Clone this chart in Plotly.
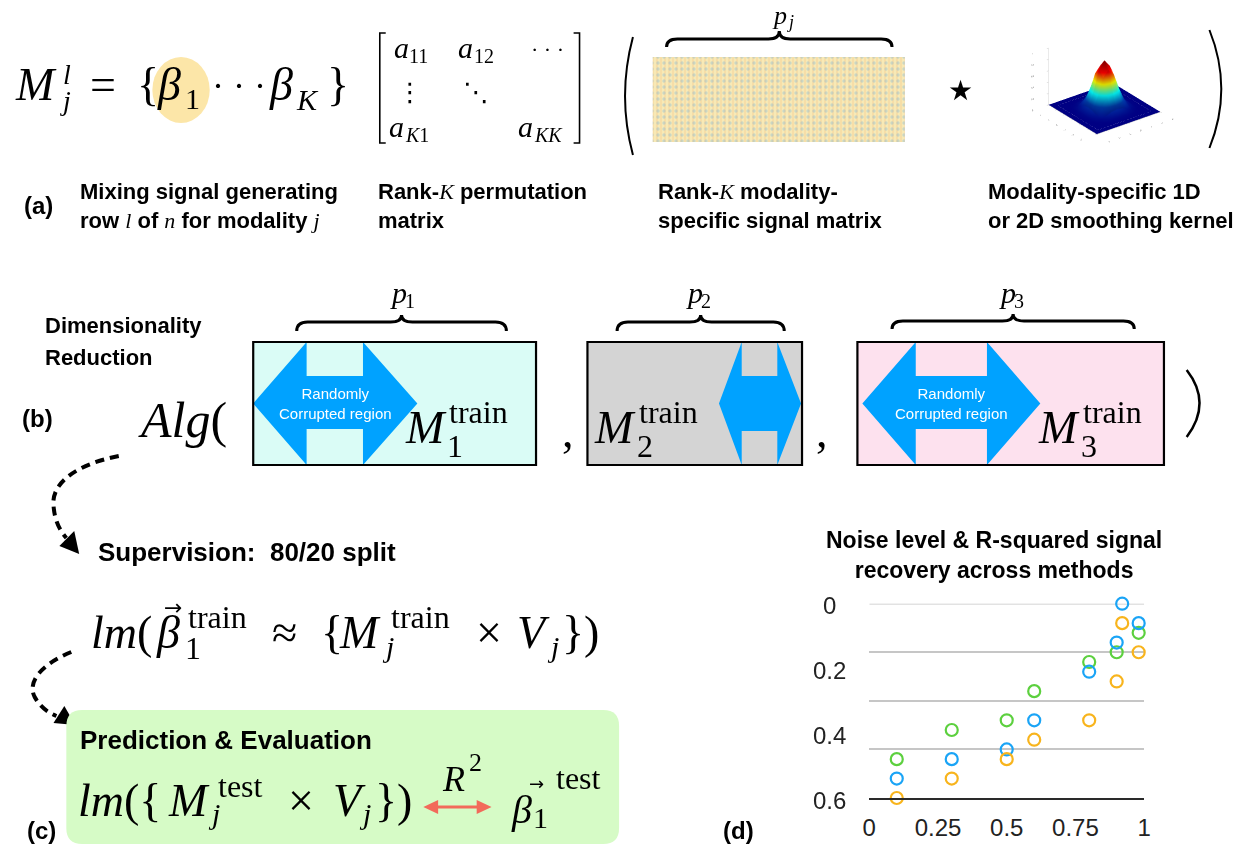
import plotly.graph_objects as go

W, H = 1255, 851
SANS = "Liberation Sans, Arial, Helvetica, sans-serif"
SERIF = "Liberation Serif, Times New Roman, serif"
SYM = "DejaVu Sans, sans-serif"

# ---------------- data: panel (d) scatter ----------------
noise_ticks = [0, 0.25, 0.5, 0.75, 1]
noise_tick_text = ["0", "0.25", "0.5", "0.75", "1"]
r2_label_vals = [0, 0.2, 0.4, 0.6]
r2_label_text = ["0", "0.2", "0.4", "0.6"]
r2_grid_vals = [0, 0.15, 0.3, 0.45, 0.6]

green_x = [0.1, 0.3, 0.5, 0.6, 0.8, 0.9, 0.98]
green_y = [0.48, 0.39, 0.36, 0.27, 0.18, 0.15, 0.09]
blue_x = [0.1, 0.3, 0.5, 0.6, 0.8, 0.9, 0.92, 0.98]
blue_y = [0.54, 0.48, 0.45, 0.36, 0.21, 0.12, 0.0, 0.06]
orange_x = [0.1, 0.3, 0.5, 0.6, 0.8, 0.9, 0.92, 0.98]
orange_y = [0.60, 0.54, 0.48, 0.42, 0.36, 0.24, 0.06, 0.15]
series_colors = {"green": "#5cd03e", "blue": "#1aa4f6", "orange": "#f8b41c"}

# ---------------- data: kernel illustration ----------------
kernel_axis = [-3, -2.5, -2, -1.5, -1, -0.5, 0, 0.5, 1, 1.5, 2, 2.5, 3]
kernel_profile = [0.0, 0.0, 0.02, 0.12, 0.42, 0.78, 0.92, 0.78, 0.42, 0.12, 0.02, 0.0, 0.0]
kernel_z = [[a * b for a in kernel_profile] for b in kernel_profile]

ann = []
shp = []


def text(x, y, s, size, family=SANS, color="black", xanchor="left", yanchor="middle", align="left"):
    ann.append(dict(x=x, y=y, xref="x2", yref="y2", text=s, showarrow=False,
                    font=dict(family=family, size=size, color=color),
                    xanchor=xanchor, yanchor=yanchor, align=align, borderpad=0, borderwidth=0))


def math(x, base, s, size, xanchor="left", family=SERIF):
    text(x, base - 0.3375 * size, s, size, family=family, xanchor=xanchor)


def ser(s):
    return "<span style='font-family:Liberation Serif;font-weight:normal'><i>%s</i></span>" % s


def path(d, color="black", width=2, fill=None, dash=None):
    shp.append(dict(type="path", path=d, xref="x2", yref="y2",
                    line=dict(color=color, width=width, dash=dash),
                    fillcolor=fill if fill else "rgba(0,0,0,0)"))


def rect(x0, y0, x1, y1, fill=None, color="black", width=2):
    shp.append(dict(type="rect", x0=x0, x1=x1, y0=y0, y1=y1, xref="x2", yref="y2",
                    line=dict(color=color, width=width),
                    fillcolor=fill if fill else "rgba(0,0,0,0)"))


def brace(x0, x1, yb, bar, peak, r=11, width=3):
    xm = (x0 + x1) / 2
    d = (f"M {x0},{yb} Q {x0},{bar} {x0+r},{bar} L {xm-r},{bar} Q {xm},{bar} {xm},{peak} "
         f"Q {xm},{bar} {xm+r},{bar} L {x1-r},{bar} Q {x1},{bar} {x1},{yb}")
    path(d, width=width)


def darrow(xl, xbl, xbr, xr, ytop, ybot, sy0, sy1, color="#00a2ff"):
    ym = (ytop + ybot) / 2
    d = (f"M {xl},{ym} L {xbl},{ytop} L {xbl},{sy0} L {xbr},{sy0} L {xbr},{ytop} L {xr},{ym} "
         f"L {xbr},{ybot} L {xbr},{sy1} L {xbl},{sy1} L {xbl},{ybot} Z")
    path(d, width=0, fill=color)


def tri(p1, p2, p3, color="black"):
    path(f"M {p1[0]},{p1[1]} L {p2[0]},{p2[1]} L {p3[0]},{p3[1]} Z", width=0, fill=color)


# ================= Row (a) =================
shp.append(dict(type="circle", x0=147, x1=205, y0=57, y1=123, xref="x2", yref="y2",
                line=dict(width=0), fillcolor="#fce6a8", layer="below"))
math(8, 100, "<i>M</i>", 46)
math(57, 84, "<i>l</i>", 28)
math(54, 110, "<i>j</i>", 28)
math(84, 100, "=", 46)
math(131, 100, "{", 46)
math(152, 100, "<i>β</i>", 46)
math(180, 109, "1", 30)
math(207, 98, "· · ·", 36)
math(265, 100, "<i>β</i>", 46)
math(292, 110, "<i>K</i>", 30)
math(324, 100, "}", 46)

# matrix
path("M 383,33 L 377,33 L 377,143 L 383,143", width=1.6)
path("M 573,33 L 579,33 L 579,143 L 573,143", width=1.6)
math(391, 58, "<i>a</i>", 30)
math(407, 63, "11", 20)
math(456, 58, "<i>a</i>", 30)
math(472, 63, "12", 20)
math(530, 57, "· · ·", 22)
text(408, 92, "⋮", 26, family=SYM, xanchor="center")
text(474, 92, "⋱", 26, family=SYM, xanchor="center")
math(386, 137, "<i>a</i>", 30)
math(402, 142, "<i>K</i>1", 20)
math(517, 137, "<i>a</i>", 30)
math(533, 142, "<i>KK</i>", 20)

# big parentheses
path("M 633,37 Q 617,96 633,155", width=2)
path("M 1216,30 Q 1240,89 1216,148", width=2)

# heatmap brace and label
brace(667, 895, 47, 39, 31)
math(774, 24, "<i>p</i>", 26)
math(789, 28, "<i>j</i>", 18)

# star operator
text(964, 90, "★", 28, family=SYM, xanchor="center")

# labels
text(17, 205, "<b>(a)</b>", 24)
text(74, 206, "<b>Mixing signal generating</b><br><b>row </b>" + ser("l") + "<b> of </b>" + ser("n")
     + "<b> for modality </b>" + ser("j"), 22)
text(375, 206, "<b>Rank-</b>" + ser("K") + "<b> permutation</b><br><b>matrix</b>", 22)
text(658, 206, "<b>Rank-</b>" + ser("K") + "<b> modality-</b><br><b>specific signal matrix</b>", 22)
text(992, 206, "<b>Modality-specific 1D</b><br><b>or 2D smoothing kernel</b>", 22)

# ================= Row (b) =================
text(38, 325, "<b>Dimensionality</b>", 22)
text(38, 357, "<b>Reduction</b>", 22)
text(15, 418, "<b>(b)</b>", 24)
math(132, 437, "<i>Alg</i>(", 50)

# boxes
BY0, BY1 = 342, 465
rect(249, BY0, 535, BY1, fill="#dafcf6", width=0)
rect(587, BY0, 804, BY1, fill="#d4d4d4", width=0)
rect(860, BY0, 1170, BY1, fill="#fde1ee", width=0)
darrow(249, 303, 360, 415, BY0, BY1, 376, 429)
darrow(720, 743, 779, 803, BY0, BY1, 376, 431)
darrow(865, 919, 991, 1045, BY0, BY1, 376, 429)
rect(249, BY0, 535, BY1, width=2.2)
rect(587, BY0, 804, BY1, width=2.2)
rect(860, BY0, 1170, BY1, width=2.2)
text(332, 403, "Randomly<br>Corrupted region", 15, color="white", xanchor="center", align="center")
text(955, 403, "Randomly<br>Corrupted region", 15, color="white", xanchor="center", align="center")

for mx, sub in [(402, "1"), (594, "2"), (1043, "3")]:
    math(mx, 443, "<i>M</i>", 46)
    math(mx + 45, 423, "train", 32)
    math(mx + 43, 457, sub, 32)

math(561, 447, ",", 46)
math(818, 447, ",", 46)
path("M 1193,370 Q 1219,403 1193,437", width=2.5)

# braces p1..p3
brace(293, 505, 331, 322, 315)
brace(617, 786, 331, 322, 315)
brace(895, 1140, 329, 321, 314)
for px, sub in [(387, "1"), (687, "2"), (1003, "3")]:
    math(px, 303, "<i>p</i>", 30)
    math(px + 15, 308, sub, 20)

# ================= Row (c) =================
path("M 113,456 C 72,464 45,482 47,505 C 48,520 53,530 60,538", width=4, dash="9px,6px")
tri((73, 554), (53, 546), (68, 531))
text(92, 552, "<b>Supervision:\u00a0 80/20 split</b>", 26)

math(85, 648, "<i>lm</i>(", 46)
math(151, 648, "<i>β</i>", 46)
text(168, 607, "→", 22, family=SYM, xanchor="center")
math(183, 628, "train", 32)
math(180, 659, "1", 32)
math(268, 648, "≈", 46)
math(318, 648, "{", 46)
math(336, 648, "<i>M</i>", 46)
math(388, 628, "train", 32)
math(379, 657, "<i>j</i>", 30)
math(474, 648, "×", 46)
math(516, 648, "<i>V</i>", 46)
math(546, 657, "<i>j</i>", 30)
math(561, 648, "})", 46)

path("M 65,652 C 35,664 20,682 28,697 C 33,706 40,712 50,716", width=4, dash="9px,6px")
tri((69, 725), (47, 723), (58, 706))

# green box
x0, y0, x1, y1, r = 60, 710, 619, 844, 16
path(f"M {x0+r},{y0} L {x1-r},{y0} Q {x1},{y0} {x1},{y0+r} L {x1},{y1-r} Q {x1},{y1} {x1-r},{y1} "
     f"L {x0+r},{y1} Q {x0},{y1} {x0},{y1-r} L {x0},{y0+r} Q {x0},{y0} {x0+r},{y0} Z",
     width=0, fill="#d6fbc6")
text(74, 740, "<b>Prediction & Evaluation</b>", 26)
text(20, 830, "<b>(c)</b>", 24)

math(72, 816, "<i>lm</i>({", 46)
math(163, 816, "<i>M</i>", 46)
math(213, 797, "test", 32)
math(203, 824, "<i>j</i>", 30)
math(284, 816, "×", 46)
math(330, 816, "<i>V</i>", 46)
math(356, 824, "<i>j</i>", 30)
math(372, 816, "})", 46)

# R^2 double arrow
path("M 432,807 L 479,807", color="#f26a5a", width=3)
tri((421, 807), (436, 800), (436, 814), color="#f26a5a")
tri((490, 807), (475, 800), (475, 814), color="#f26a5a")
math(440, 791, "<i>R</i>", 36)
math(467, 771, "2", 26)
math(510, 823, "<i>β</i>", 40)
text(535, 783, "→", 18, family=SYM, xanchor="center")
math(532, 828, "1", 30)
math(555, 789, "test", 32)

# ================= (d) =================
text(724, 830, "<b>(d)</b>", 24)
ann.append(dict(x=998 / W, y=1 - 555 / H, xref="paper", yref="paper",
                text="<b>Noise level & R-squared signal</b><br><b>recovery across methods</b>",
                showarrow=False, font=dict(family=SANS, size=23, color="black"),
                xanchor="center", yanchor="middle", align="center"))
for v, t in zip(r2_label_vals, r2_label_text):
    ann.append(dict(x=832 / W, y=v, yshift=-2, xref="paper", yref="y", text=t, showarrow=False,
                    font=dict(family=SANS, size=24, color="#222"), xanchor="center", yanchor="middle"))
# top gridline (value 0 sits on the plot edge, so draw it explicitly)
shp.append(dict(type="line", xref="x", yref="y", x0=0, x1=1, y0=r2_grid_vals[0], y1=r2_grid_vals[0],
                line=dict(color="#c6c6c6", width=1.5), layer="below"))

fig = go.Figure()

# decorative signal-matrix texture
hx = [653, 908, 908, 653, 653]
hy = [57, 57, 142, 142, 57]
fig.add_trace(go.Scatter(x=hx, y=hy, xaxis="x2", yaxis="y2", mode="lines", line=dict(width=0),
                         fill="toself", fillcolor="#f7e9b6",
                         fillpattern=dict(shape="|", fgcolor="rgba(238,140,60,0.55)", bgcolor="#f7e9b6",
                                          size=4, solidity=0.22),
                         hoverinfo="skip", showlegend=False))
fig.add_trace(go.Scatter(x=hx, y=hy, xaxis="x2", yaxis="y2", mode="lines", line=dict(width=0),
                         fill="toself", fillcolor="rgba(0,0,0,0)",
                         fillpattern=dict(shape=".", fgcolor="rgba(100,170,225,0.6)", bgcolor="rgba(0,0,0,0)",
                                          size=6, solidity=0.25),
                         hoverinfo="skip", showlegend=False))

for name, xs, ys in [("green", green_x, green_y), ("blue", blue_x, blue_y), ("orange", orange_x, orange_y)]:
    fig.add_trace(go.Scatter(x=xs, y=ys, mode="markers", name=name, cliponaxis=False,
                             marker=dict(symbol="circle-open", size=12, color=series_colors[name],
                                         line=dict(width=2.2, color=series_colors[name])),
                             showlegend=False, xaxis="x", yaxis="y"))

fig.add_trace(go.Surface(x=kernel_axis, y=kernel_axis, z=kernel_z, colorscale="Jet", cmin=0, cmax=0.85,
                         showscale=False, scene="scene", hoverinfo="skip",
                         lighting=dict(ambient=0.85, diffuse=0.35, specular=0.05)))

kaxis = dict(tickfont=dict(size=5, color="#555"), title=dict(text=""), showbackground=False,
             showgrid=False, showline=True, linecolor="#c8c8c8", mirror=False, zeroline=False,
             ticks="outside", ticklen=2, tickcolor="#c8c8c8", showspikes=False)
fig.update_layout(
    width=W, height=H, margin=dict(l=0, r=0, t=0, b=0),
    paper_bgcolor="white", plot_bgcolor="rgba(0,0,0,0)", showlegend=False,
    xaxis=dict(domain=[872 / W, 1150 / W], range=[0, 1], tickvals=noise_ticks, ticktext=noise_tick_text,
               showgrid=False, zeroline=False, showline=True, linecolor="#2a2a2a", linewidth=1.5,
               ticks="", tickfont=dict(family=SANS, size=24, color="#222"), ticklabelstandoff=7,
               anchor="y", fixedrange=True),
    yaxis=dict(domain=[1 - 798 / H, 1 - 603.7 / H], range=[0.6, 0], tickvals=r2_grid_vals,
               showticklabels=False, showgrid=True, gridcolor="#c6c6c6", gridwidth=1.5,
               zeroline=False, ticks="", anchor="x", fixedrange=True),
    xaxis2=dict(domain=[0, 1], range=[0, W], visible=False, anchor="y2", fixedrange=True),
    yaxis2=dict(domain=[0, 1], range=[H, 0], visible=False, anchor="x2", fixedrange=True),
    scene=dict(domain=dict(x=[975 / W, 1245 / W], y=[1 - 160 / H, 1 - 0 / H]),
               xaxis=dict(range=[-3, 3], tickvals=[-3, -2, -1, 0, 1, 2, 3], **kaxis),
               yaxis=dict(range=[-3, 3], tickvals=[-3, -2, -1, 0, 1, 2, 3], **kaxis),
               zaxis=dict(range=[0, 1], tickvals=[0, 0.2, 0.4, 0.6, 0.8, 1], **kaxis),
               camera=dict(eye=dict(x=-0.72, y=-0.95, z=0.62), projection=dict(type="orthographic")),
               aspectmode="manual", aspectratio=dict(x=1, y=1, z=0.8), bgcolor="rgba(0,0,0,0)"),
    annotations=ann, shapes=shp,
)

fig.write_html("out.html", config={"displayModeBar": False},
               post_script="document.body.style.margin='0';document.body.style.overflow='hidden';")
